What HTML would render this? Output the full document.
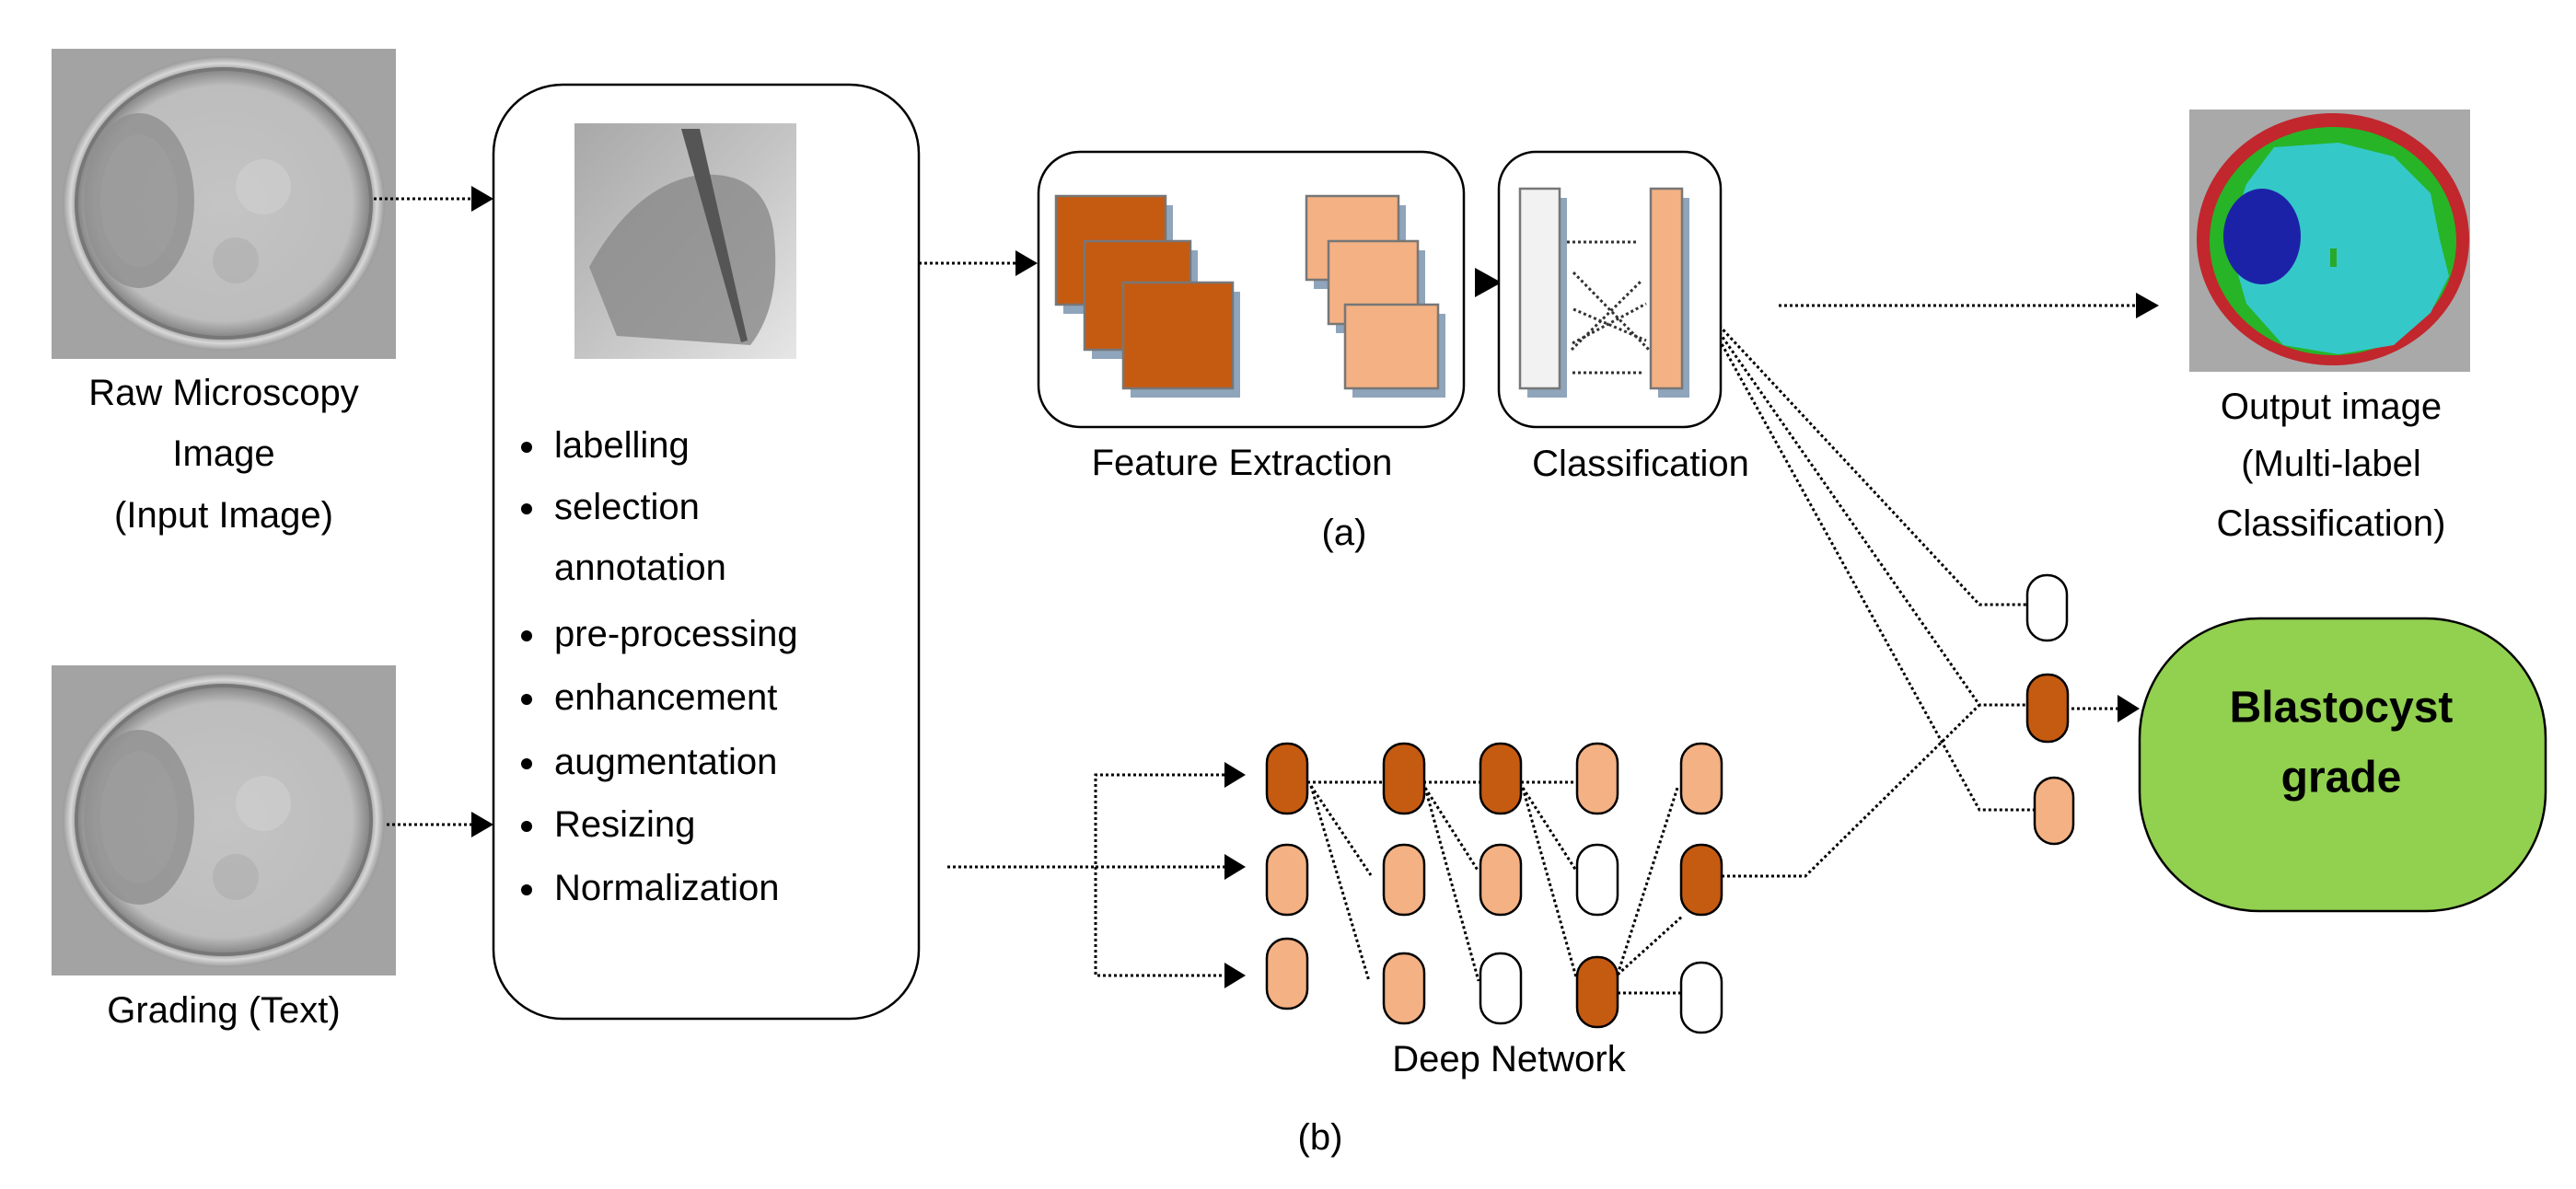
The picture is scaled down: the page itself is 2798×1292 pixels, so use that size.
<!DOCTYPE html>
<html><head><meta charset="utf-8"><style>
html,body{margin:0;padding:0;background:#fff;}
svg{display:block;}
text{font-family:"Liberation Sans",sans-serif;fill:#000;}
</style></head><body>
<svg width="2798" height="1292" viewBox="0 0 2798 1292" xmlns="http://www.w3.org/2000/svg">
<defs>
<radialGradient id="emb" cx="50%" cy="50%" r="50%">
<stop offset="0" stop-color="#c4c4c4"/><stop offset="0.8" stop-color="#bdbdbd"/><stop offset="0.9" stop-color="#8a8a8a"/><stop offset="0.95" stop-color="#d8d8d8"/><stop offset="1" stop-color="#9a9a9a"/>
</radialGradient>
<linearGradient id="hand" x1="0" y1="0" x2="1" y2="1">
<stop offset="0" stop-color="#a8a8a8"/><stop offset="0.5" stop-color="#c4c4c4"/><stop offset="1" stop-color="#e6e6e6"/>
</linearGradient>
<g id="embryo">
<rect x="0" y="0" width="374" height="337" fill="#a3a3a3"/>
<ellipse cx="187" cy="168" rx="175" ry="160" fill="url(#emb)"/>
<ellipse cx="187" cy="168" rx="160" ry="146" fill="none" stroke="#777" stroke-width="4"/>
<ellipse cx="95" cy="165" rx="60" ry="95" fill="#8f8f8f" opacity="0.8"/>
<ellipse cx="95" cy="165" rx="42" ry="72" fill="#9e9e9e" opacity="0.7"/>
<circle cx="230" cy="150" r="30" fill="#d0d0d0" opacity="0.6"/>
<circle cx="200" cy="230" r="25" fill="#adadad" opacity="0.6"/>
</g>
</defs>

<use href="#embryo" x="56" y="53"/>
<use href="#embryo" x="56" y="723"/>
<text x="243" y="427" font-size="40" text-anchor="middle" dominant-baseline="central">Raw Microscopy</text>
<text x="243" y="493" font-size="40" text-anchor="middle" dominant-baseline="central">Image</text>
<text x="243" y="560" font-size="40" text-anchor="middle" dominant-baseline="central">(Input Image)</text>
<text x="243" y="1098" font-size="40" text-anchor="middle" dominant-baseline="central">Grading (Text)</text>

<rect x="536" y="92" width="462" height="1015" rx="75" fill="#fff" stroke="#000" stroke-width="2.5"/>
<rect x="624" y="134" width="241" height="256" fill="url(#hand)"/>
<path d="M640 290 Q690 200 760 190 Q830 185 840 250 Q850 330 815 375 L670 365 Z" fill="#8a8a8a" opacity="0.8"/>
<path d="M740 140 L760 140 L812 370 L805 372 Z" fill="#555"/>
<g font-size="40" dominant-baseline="central">
<circle cx="572" cy="486" r="6"/><text x="602" y="484">labelling</text>
<circle cx="572" cy="553" r="6"/><text x="602" y="551">selection</text>
<text x="602" y="617">annotation</text>
<circle cx="572" cy="691" r="6"/><text x="602" y="689">pre-processing</text>
<circle cx="572" cy="760" r="6"/><text x="602" y="758">enhancement</text>
<circle cx="572" cy="830" r="6"/><text x="602" y="828">augmentation</text>
<circle cx="572" cy="898" r="6"/><text x="602" y="896">Resizing</text>
<circle cx="572" cy="967" r="6"/><text x="602" y="965">Normalization</text>
</g>

<g stroke="#000" stroke-width="3" stroke-dasharray="3 3" fill="none">
<line x1="406" y1="216" x2="512" y2="216"/>
<line x1="420" y1="896" x2="512" y2="896"/>
<line x1="998" y1="286" x2="1103" y2="286"/>
<line x1="1029" y1="942" x2="1190" y2="942"/>
<polyline points="1330,842 1190,842 1190,1060 1330,1060"/>
<line x1="1190" y1="942" x2="1330" y2="942"/>
<line x1="1932" y1="332" x2="2320" y2="332"/>
<polyline points="1847,332 2150,657 2202,657"/>
<polyline points="1847,332 2150,766 2202,766"/>
<polyline points="1847,332 2150,880 2210,880"/>
<polyline points="1870,952 1961,952 2150,766"/>
<line x1="2232" y1="770" x2="2300" y2="770"/>
</g>
<g fill="#000">
<polygon points="512,202 536,216 512,230"/>
<polygon points="512,882 536,896 512,910"/>
<polygon points="1103,272 1127,286 1103,300"/>
<polygon points="1602,291 1631,307 1602,323"/>
<polygon points="1330,828 1353,842 1330,856"/>
<polygon points="1330,928 1353,942 1330,956"/>
<polygon points="1330,1046 1353,1060 1330,1074"/>
<polygon points="2320,318 2345,332 2320,346"/>
<polygon points="2300,755 2324,770 2300,785"/>
</g>

<rect x="1128" y="165" width="462" height="299" rx="45" fill="#fff" stroke="#000" stroke-width="2.5"/>
<g stroke="#777" stroke-width="2.5">
<rect x="1155" y="223" width="119" height="118" fill="#8fa5bc" stroke="none"/>
<rect x="1147" y="213" width="119" height="118" fill="#c55a11"/>
<rect x="1186" y="272" width="115" height="118" fill="#8fa5bc" stroke="none"/>
<rect x="1178" y="262" width="115" height="118" fill="#c55a11"/>
<rect x="1228" y="317" width="119" height="115" fill="#8fa5bc" stroke="none"/>
<rect x="1220" y="307" width="119" height="115" fill="#c55a11"/>
<rect x="1427" y="223" width="100" height="91" fill="#8fa5bc" stroke="none"/>
<rect x="1419" y="213" width="100" height="91" fill="#f4b183"/>
<rect x="1451" y="272" width="97" height="90" fill="#8fa5bc" stroke="none"/>
<rect x="1443" y="262" width="97" height="90" fill="#f4b183"/>
<rect x="1469" y="341" width="101" height="91" fill="#8fa5bc" stroke="none"/>
<rect x="1461" y="331" width="101" height="91" fill="#f4b183"/>
</g>
<text x="1349" y="503" font-size="40" text-anchor="middle" dominant-baseline="central">Feature Extraction</text>
<text x="1460" y="579" font-size="40" text-anchor="middle" dominant-baseline="central">(a)</text>

<rect x="1628" y="165" width="241" height="299" rx="40" fill="#fff" stroke="#000" stroke-width="2.5"/>
<g stroke="#777" stroke-width="2.5">
<rect x="1659" y="215" width="43" height="217" fill="#8fa5bc" stroke="none"/>
<rect x="1651" y="205" width="43" height="217" fill="#f2f2f2"/>
<rect x="1801" y="215" width="34" height="217" fill="#8fa5bc" stroke="none"/>
<rect x="1793" y="205" width="34" height="217" fill="#f4b183"/>
</g>
<g stroke="#333" stroke-width="3" stroke-dasharray="3 3">
<line x1="1702" y1="263" x2="1780" y2="263"/>
<line x1="1708" y1="405" x2="1786" y2="405"/>
<line x1="1709" y1="296" x2="1791" y2="380"/>
<line x1="1707" y1="380" x2="1782" y2="306"/>
<line x1="1709" y1="336" x2="1788" y2="370"/>
<line x1="1708" y1="373" x2="1788" y2="330"/>
</g>
<text x="1782" y="504" font-size="40" text-anchor="middle" dominant-baseline="central">Classification</text>

<rect x="2378" y="119" width="305" height="285" fill="#a9a9a9"/>
<ellipse cx="2534" cy="260" rx="148" ry="137" fill="#c1272d"/>
<ellipse cx="2534" cy="262" rx="134" ry="124" fill="#27b427"/>
<polygon points="2470,160 2540,155 2600,170 2640,210 2650,260 2660,300 2640,340 2600,375 2540,385 2480,375 2440,330 2420,260 2440,200" fill="#35c8c8"/>
<ellipse cx="2457" cy="257" rx="42" ry="52" fill="#1c22a8"/>
<rect x="2531" y="270" width="7" height="20" fill="#2aa82a"/>
<text x="2532" y="442" font-size="40" text-anchor="middle" dominant-baseline="central">Output image</text>
<text x="2532" y="504" font-size="40" text-anchor="middle" dominant-baseline="central">(Multi-label</text>
<text x="2532" y="569" font-size="40" text-anchor="middle" dominant-baseline="central">Classification)</text>

<g stroke="#000" stroke-width="2.5">
<rect x="2202" y="625" width="43" height="71" rx="21" fill="#fff"/>
<rect x="2202" y="733" width="44" height="73" rx="21" fill="#c55a11"/>
<rect x="2210" y="845" width="42" height="72" rx="21" fill="#f4b183"/>
</g>

<rect x="2324" y="672" width="441" height="318" rx="130" fill="#92d050" stroke="#000" stroke-width="2.5"/>
<text x="2543" y="769" font-size="48" font-weight="bold" text-anchor="middle" dominant-baseline="central">Blastocyst</text>
<text x="2543" y="845" font-size="48" font-weight="bold" text-anchor="middle" dominant-baseline="central">grade</text>

<g stroke="#000" stroke-width="3" stroke-dasharray="3 3" fill="none">
<line x1="1420" y1="850" x2="1504" y2="850"/>
<line x1="1424" y1="854" x2="1489" y2="951"/>
<line x1="1424" y1="854" x2="1487" y2="1066"/>
<line x1="1546" y1="850" x2="1610" y2="850"/>
<line x1="1548" y1="856" x2="1606" y2="947"/>
<line x1="1548" y1="856" x2="1606" y2="1066"/>
<line x1="1652" y1="850" x2="1714" y2="850"/>
<line x1="1654" y1="856" x2="1712" y2="946"/>
<line x1="1654" y1="856" x2="1712" y2="1062"/>
<line x1="1757" y1="1059" x2="1822" y2="856"/>
<line x1="1757" y1="1059" x2="1828" y2="995"/>
<line x1="1757" y1="1079" x2="1826" y2="1079"/>
</g>
<g stroke="#000" stroke-width="2.5">
<rect x="1376" y="808" width="44" height="76" rx="21" fill="#c55a11"/>
<rect x="1376" y="918" width="44" height="76" rx="21" fill="#f4b183"/>
<rect x="1376" y="1020" width="44" height="76" rx="21" fill="#f4b183"/>
<rect x="1503" y="808" width="44" height="76" rx="21" fill="#c55a11"/>
<rect x="1503" y="918" width="44" height="76" rx="21" fill="#f4b183"/>
<rect x="1503" y="1036" width="44" height="76" rx="21" fill="#f4b183"/>
<rect x="1608" y="808" width="44" height="76" rx="21" fill="#c55a11"/>
<rect x="1608" y="918" width="44" height="76" rx="21" fill="#f4b183"/>
<rect x="1608" y="1036" width="44" height="76" rx="21" fill="#fff"/>
<rect x="1713" y="808" width="44" height="76" rx="21" fill="#f4b183"/>
<rect x="1713" y="918" width="44" height="76" rx="21" fill="#fff"/>
<rect x="1713" y="1040" width="44" height="76" rx="21" fill="#c55a11"/>
<rect x="1826" y="808" width="44" height="76" rx="21" fill="#f4b183"/>
<rect x="1826" y="918" width="44" height="76" rx="21" fill="#c55a11"/>
<rect x="1826" y="1046" width="44" height="76" rx="21" fill="#fff"/>
</g>
<text x="1639" y="1151" font-size="40" text-anchor="middle" dominant-baseline="central">Deep Network</text>
<text x="1434" y="1236" font-size="40" text-anchor="middle" dominant-baseline="central">(b)</text>
</svg>
</body></html>
